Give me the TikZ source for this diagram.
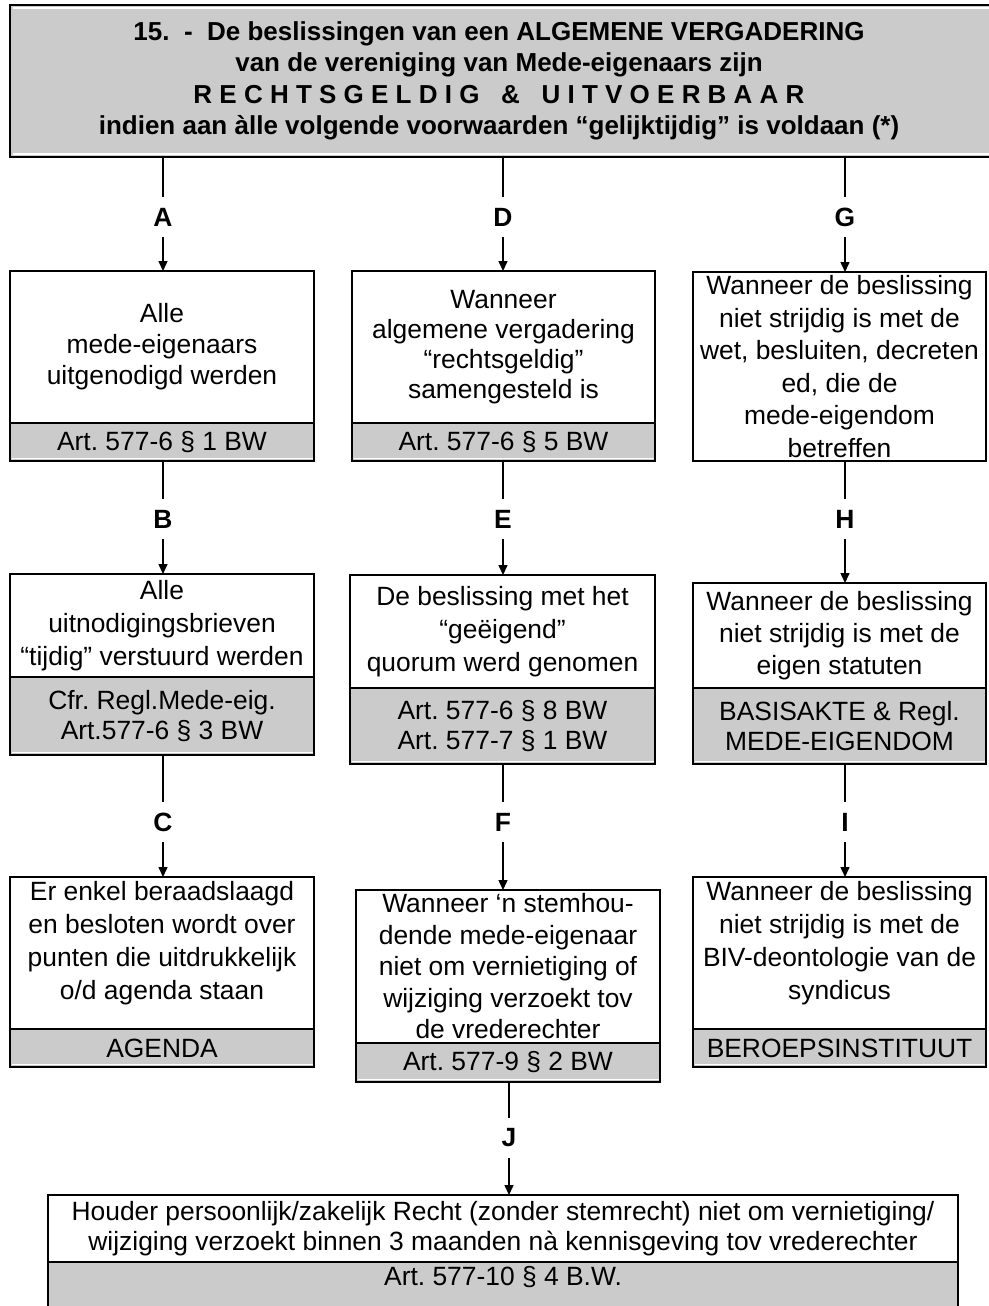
\documentclass[tikz,border=0pt]{standalone}
\usepackage{fontspec}
\setmainfont{Liberation Sans}
\usetikzlibrary{arrows.meta}
\definecolor{boxgray}{RGB}{203,203,203}
\begin{document}
\frenchspacing
\begin{tikzpicture}[x=1pt,y=-1pt,
  every node/.style={inner sep=0pt, outer sep=0pt},
  txt/.style={font=\fontsize{26.4}{31}\selectfont, align=center},
  wbox/.style={draw, line width=2pt, fill=white, anchor=north west, txt},
  gbox/.style={draw, line width=2pt, fill=boxgray, anchor=north west, txt},
  lbl/.style={font=\fontsize{26.4}{30}\selectfont\bfseries, minimum height=40pt},
  conn/.style={line width=1.5pt},
  arr/.style={conn, -{Triangle[length=10pt,width=9pt]}},
  hl/.style={white, line width=1.3pt}
]
\useasboundingbox (0,0) rectangle (988,1306);

% header
\node[draw, line width=2.5pt, fill=boxgray, anchor=north west, minimum width=995, minimum height=152] (hdr) at (10,5) {};
\draw[hl] ([xshift=2.5pt,yshift=-3pt]hdr.north west) -- ([yshift=-3pt]hdr.north east);
\draw[hl] ([xshift=2.5pt,yshift=3pt]hdr.south west) -- ([yshift=3pt]hdr.south east);
\node[font=\fontsize{26}{31.5}\selectfont\bfseries, align=center] (title) at (499,81)
 {15.\ \ -\ \ De beslissingen van een ALGEMENE VERGADERING\\
  van de vereniging van Mede-eigenaars zijn\\
  R E C H T S G E L D I G\ \ \ \&\ \ \ U I T V O E R B A A R\\
  indien aan àlle volgende voorwaarden “gelijktijdig” is voldaan (*)};

% column 1
\node[wbox, minimum width=304, minimum height=152] (a) at (10,271) {Alle\\mede-eigenaars\\uitgenodigd werden};
\node[gbox, minimum width=304, minimum height=38] (ar) at (10,423) {Art. 577-6 § 1 BW};
\node[wbox, minimum width=304, minimum height=103, font=\fontsize{26.4}{33}\selectfont] (b) at (10,574) {Alle\\uitnodigingsbrieven\\“tijdig” verstuurd werden};
\node[gbox, minimum width=304, minimum height=78, font=\fontsize{26.4}{30}\selectfont] (br) at (10,677) {Cfr. Regl.Mede-eig.\\Art.577-6 § 3 BW};
\node[wbox, minimum width=304, minimum height=152, text depth=26pt, font=\fontsize{26.4}{33}\selectfont] (c) at (10,877) {Er enkel beraadslaagd\\en besloten wordt over\\punten die uitdrukkelijk\\o/d agenda staan};
\node[gbox, minimum width=304, minimum height=38] (cr) at (10,1029) {AGENDA};

% column 2
\node[wbox, minimum width=303, minimum height=152, font=\fontsize{26.4}{30}\selectfont] (d) at (352,271) {Wanneer\\algemene vergadering\\“rechtsgeldig”\\samengesteld is};
\node[gbox, minimum width=303, minimum height=38] (dr) at (352,423) {Art. 577-6 § 5 BW};
\node[wbox, minimum width=305, minimum height=113, font=\fontsize{26.4}{33}\selectfont] (e) at (350,575) {De beslissing met het\\“geëigend”\\quorum werd genomen};
\node[gbox, minimum width=305, minimum height=76, font=\fontsize{26.4}{30}\selectfont] (er) at (350,688) {Art. 577-6 § 8 BW\\Art. 577-7 § 1 BW};
\node[wbox, minimum width=304, minimum height=153, font=\fontsize{26.4}{31.5}\selectfont] (f) at (356,890) {Wanneer ‘n stemhou-\\dende mede-eigenaar\\niet om vernietiging of\\wijziging verzoekt tov\\de vrederechter};
\node[gbox, minimum width=304, minimum height=39] (fr) at (356,1043) {Art. 577-9 § 2 BW};

% column 3
\node[wbox, minimum width=293, minimum height=189, font=\fontsize{26.4}{32.5}\selectfont] (g) at (693,272) {Wanneer de beslissing\\niet strijdig is met de\\wet, besluiten, decreten\\ed, die de\\mede-eigendom\\betreffen};
\node[wbox, minimum width=293, minimum height=105, font=\fontsize{26.4}{32}\selectfont] (h) at (693,583) {Wanneer de beslissing\\niet strijdig is met de\\eigen statuten};
\node[gbox, minimum width=293, minimum height=76, font=\fontsize{26.4}{30}\selectfont] (hr) at (693,688) {BASISAKTE \& Regl.\\MEDE-EIGENDOM};
\node[wbox, minimum width=293, minimum height=152, text depth=26pt, font=\fontsize{26.4}{33}\selectfont] (i) at (693,877) {Wanneer de beslissing\\niet strijdig is met de\\BIV-deontologie van de\\syndicus};
\node[gbox, minimum width=293, minimum height=38] (ir) at (693,1029) {BEROEPSINSTITUUT};

% bottom
\node[wbox, minimum width=910, minimum height=67, font=\fontsize{26.4}{30}\selectfont] (k) at (48,1195) {Houder persoonlijk/zakelijk Recht (zonder stemrecht) niet om vernietiging/\\wijziging verzoekt binnen 3 maanden nà kennisgeving tov vrederechter};
\node[gbox, minimum width=910, minimum height=60] (kr) at (48,1262) {};
\node[txt] (krt) at (503,1277) {Art. 577-10 § 4 B.W.};

\foreach \n in {ar,br,cr,dr,er,fr,hr,ir}
  \draw[hl] ([xshift=1.5pt,yshift=2.5pt]\n.south west) -- ([xshift=-1.5pt,yshift=2.5pt]\n.south east);

% labels
\node[lbl] (lA) at (163,217) {A};
\node[lbl] (lD) at (503,217) {D};
\node[lbl] (lG) at (845,217) {G};
\node[lbl] (lB) at (163,519) {B};
\node[lbl] (lE) at (503,519) {E};
\node[lbl] (lH) at (845,519) {H};
\node[lbl] (lC) at (163,822) {C};
\node[lbl] (lF) at (503,822) {F};
\node[lbl] (lI) at (845,822) {I};
\node[lbl] (lJ) at (509,1138) {J};

% connectors
\draw[conn] (lA|-hdr.south) -- (lA.north);
\draw[arr] (lA.south) -- (lA.south|-a.north);
\draw[conn] (lD|-hdr.south) -- (lD.north);
\draw[arr] (lD.south) -- (lD.south|-d.north);
\draw[conn] (lG|-hdr.south) -- (lG.north);
\draw[arr] (lG.south) -- (lG.south|-g.north);

\draw[conn] (lB|-ar.south) -- (lB.north);
\draw[arr] (lB.south) -- (lB.south|-b.north);
\draw[conn] (lE|-dr.south) -- (lE.north);
\draw[arr] (lE.south) -- (lE.south|-e.north);
\draw[conn] (lH|-g.south) -- (lH.north);
\draw[arr] (lH.south) -- (lH.south|-h.north);

\draw[conn] (lC|-br.south) -- (lC.north);
\draw[arr] (lC.south) -- (lC.south|-c.north);
\draw[conn] (lF|-er.south) -- (lF.north);
\draw[arr] (lF.south) -- (lF.south|-f.north);
\draw[conn] (lI|-hr.south) -- (lI.north);
\draw[arr] (lI.south) -- (lI.south|-i.north);

\draw[conn] (lJ|-fr.south) -- (lJ.north);
\draw[arr] (lJ.south) -- (lJ.south|-k.north);
\end{tikzpicture}
\end{document}
